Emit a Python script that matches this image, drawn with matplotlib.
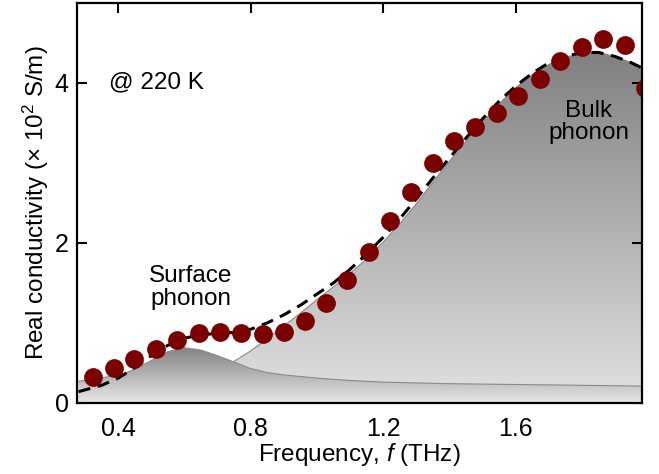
import numpy as np
import matplotlib.pyplot as plt
from matplotlib.colors import LinearSegmentedColormap

plt.rcParams['font.family'] = ['Liberation Sans', 'DejaVu Sans']
plt.rcParams['mathtext.fontset'] = 'custom'
plt.rcParams['mathtext.rm'] = 'Liberation Sans'
plt.rcParams['mathtext.it'] = 'Liberation Sans:italic'

# measured conductivity (x 10^2 S/m) @ 220 K
freq = [0.324, 0.386, 0.449, 0.514, 0.579, 0.643, 0.708, 0.771, 0.837,
        0.900, 0.964, 1.027, 1.092, 1.157, 1.222, 1.285, 1.351, 1.414,
        1.478, 1.544, 1.608, 1.672, 1.735, 1.801, 1.865, 1.929, 1.990]
sigma = [0.32, 0.43, 0.55, 0.675, 0.78, 0.87, 0.88, 0.87, 0.86,
         0.89, 1.025, 1.25, 1.54, 1.88, 2.27, 2.64, 3.00, 3.27,
         3.45, 3.62, 3.83, 4.05, 4.27, 4.45, 4.55, 4.47, 3.93]

# fit curve (dashed)
fit_f = [0.28, 0.35, 0.40, 0.45, 0.50, 0.55, 0.60, 0.65, 0.70, 0.75,
         0.80, 0.85, 0.90, 0.95, 1.00, 1.05, 1.10, 1.15, 1.20, 1.25,
         1.30, 1.35, 1.40, 1.45, 1.50, 1.55, 1.60, 1.65, 1.70, 1.75,
         1.80, 1.85, 1.90, 1.95, 1.98]
fit_s = [0.14, 0.22, 0.31, 0.44, 0.59, 0.72, 0.81, 0.85, 0.87, 0.88,
         0.92, 1.00, 1.10, 1.22, 1.36, 1.50, 1.67, 1.86, 2.07, 2.30,
         2.55, 2.81, 3.06, 3.31, 3.55, 3.77, 3.96, 4.12, 4.25, 4.33,
         4.38, 4.38, 4.33, 4.25, 4.19]

# bulk phonon component
bulk_f = [0.28, 0.40, 0.50, 0.60, 0.70, 0.75, 0.80, 0.85, 0.90, 0.95,
          1.00, 1.05, 1.10, 1.15, 1.20, 1.25, 1.30, 1.35, 1.40, 1.45,
          1.50, 1.55, 1.60, 1.65, 1.70, 1.75, 1.80, 1.85, 1.90, 1.95, 1.98]
bulk_s = [0.08, 0.15, 0.22, 0.30, 0.41, 0.52, 0.65, 0.80, 0.96, 1.12,
          1.29, 1.45, 1.62, 1.80, 2.01, 2.24, 2.49, 2.76, 3.02, 3.27,
          3.51, 3.74, 3.94, 4.10, 4.23, 4.32, 4.37, 4.38, 4.33, 4.25, 4.19]

# surface phonon component
surf_f = [0.28, 0.35, 0.42, 0.45, 0.50, 0.55, 0.60, 0.65, 0.70, 0.75,
          0.80, 0.85, 0.90, 1.00, 1.10, 1.20, 1.40, 1.60, 1.80, 1.98]
surf_s = [0.27, 0.31, 0.37, 0.42, 0.53, 0.64, 0.69, 0.66, 0.59, 0.51,
          0.43, 0.38, 0.35, 0.31, 0.28, 0.26, 0.24, 0.23, 0.22, 0.21]


def gradient_fill(ax, x, y, ytop, c_top, c_bot, z):
    poly = ax.fill_between(x, 0, y, color='none', lw=0, zorder=z)
    cmap = LinearSegmentedColormap.from_list('g', [c_bot, c_top])
    grad = np.linspace(0, 1, 256).reshape(-1, 1)
    im = ax.imshow(grad, cmap=cmap, aspect='auto', origin='lower',
                   extent=[min(x), max(x), 0, ytop], zorder=z)
    im.set_clip_path(poly.get_paths()[0], transform=ax.transData)
    ax.plot(x, y, color='#8a8a8a', lw=0.8, zorder=z + 0.1)


fig = plt.figure(figsize=(6.59, 4.74), dpi=100)
ax = fig.add_axes([0.117, 0.150, 0.857, 0.844])

gradient_fill(ax, bulk_f, bulk_s, 4.4, '#808080', '#e2e2e2', 1)
gradient_fill(ax, surf_f, surf_s, 0.7, '#808080', '#e8e8e8', 2)

ax.plot(fit_f, fit_s, '--', color='black', lw=2.2, dashes=(4, 2.5), zorder=4)
ax.plot(freq, sigma, 'o', color='#7b0000', ms=13.5, mec='none', zorder=5)

ax.text(0.373, 4.0, '@ 220 K', fontsize=17.5, va='center', ha='left')
ax.text(0.62, 1.44, 'Surface\nphonon', fontsize=17.5, ha='center',
        va='center', linespacing=1.05)
ax.text(1.82, 3.51, 'Bulk\nphonon', fontsize=17.5, ha='center', va='center',
        linespacing=1.05)

ax.set_xlim(0.276, 1.981)
ax.set_ylim(0, 5)
ax.set_xticks([0.4, 0.8, 1.2, 1.6])
ax.set_yticks([0, 2, 4])
ax.tick_params(direction='in', length=7, width=1.5, labelsize=18,
               top=True, right=True)
ax.tick_params(axis='x', pad=10)
ax.tick_params(axis='y', pad=6)
for s in ax.spines.values():
    s.set_linewidth(1.6)
    s.set_zorder(6)

ax.set_xlabel('Frequency, $f$ (THz)', fontsize=17.5, labelpad=0)
ax.set_ylabel(r'Real conductivity ($\times$ 10$^2$ S/m)', fontsize=17.5,
              labelpad=3)

fig.savefig('out.png', dpi=100)
